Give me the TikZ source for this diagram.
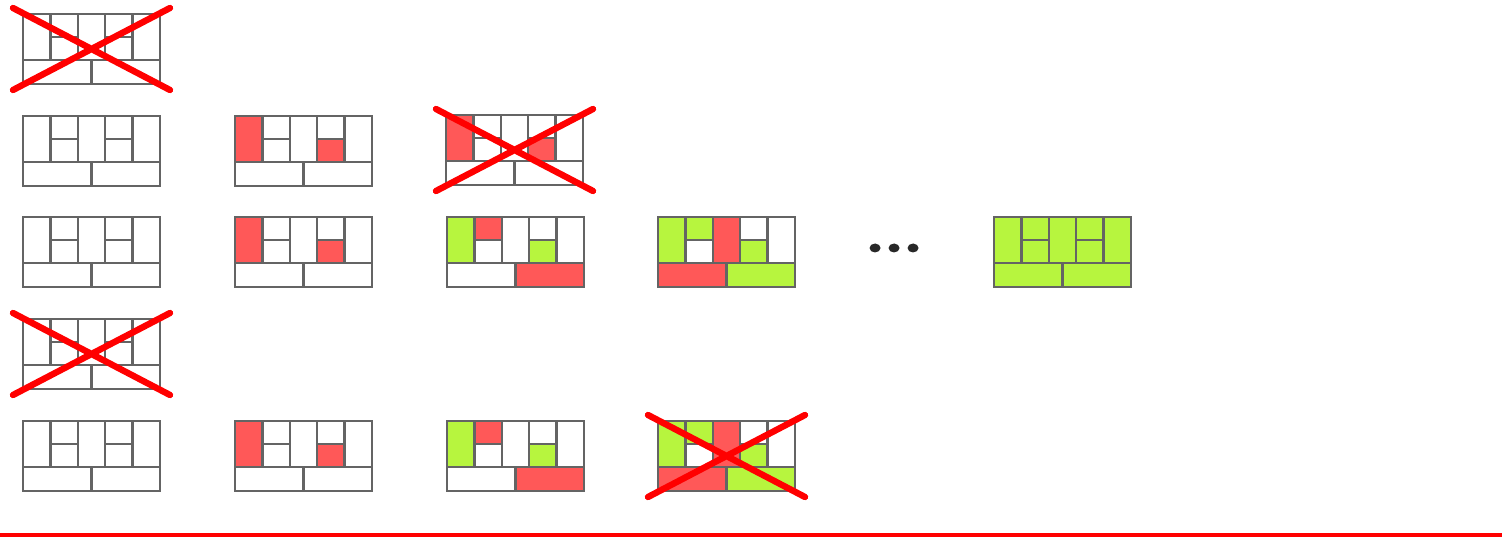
\documentclass[tikz,border=0pt]{standalone}
\definecolor{cellred}{RGB}{255,88,88}
\definecolor{cellgreen}{RGB}{183,245,62}
\definecolor{gridgray}{RGB}{100,100,100}
\definecolor{crossred}{RGB}{255,0,0}
\definecolor{dotgray}{RGB}{40,40,40}
% colours: c1, c2 top, c2 bottom, c3, c4 top, c4 bottom, c5, bottom left, bottom right
\newcommand\brickwall[9]{%
  \fill[#1] (0,0) rectangle (27.4,46);
  \fill[#2] (27.4,0) rectangle (54.8,23);
  \fill[#3] (27.4,23) rectangle (54.8,46);
  \fill[#4] (54.8,0) rectangle (82.2,46);
  \fill[#5] (82.2,0) rectangle (109.6,23);
  \fill[#6] (82.2,23) rectangle (109.6,46);
  \fill[#7] (109.6,0) rectangle (137,46);
  \fill[#8] (0,46) rectangle (68.5,70);
  \fill[#9] (68.5,46) rectangle (137,70);
  \draw[gridline] (0,0) rectangle (137,70)
    (0,46) -- (137,46)
    (27.4,0) -- (27.4,46) (54.8,0) -- (54.8,46)
    (82.2,0) -- (82.2,46) (109.6,0) -- (109.6,46)
    (27.4,23) -- (54.8,23) (82.2,23) -- (109.6,23)
    (68.5,46) -- (68.5,70);
}
\newcommand\crossout{%
  \draw[crossline] (-10,-6) -- (147,76) (147,-6) -- (-10,76);
}
\tikzset{
  gridline/.style={draw=gridgray, line width=1.2pt},
  crossline/.style={draw=crossred, line width=3.2pt, line cap=round},
  dotmark/.style={fill=dotgray},
  redrule/.style={draw=crossred, line width=1.6pt}
}
\begin{document}
\begin{tikzpicture}[x=0.5pt,y=-0.5pt]
\useasboundingbox (0,0) rectangle (1502,549);
% row 1
\begin{scope}[shift={(23,14)}]
  \brickwall{white}{white}{white}{white}{white}{white}{white}{white}{white}\crossout
\end{scope}
% row 2
\begin{scope}[shift={(23,116)}]
  \brickwall{white}{white}{white}{white}{white}{white}{white}{white}{white}
\end{scope}
\begin{scope}[shift={(235,116)}]
  \brickwall{cellred}{white}{white}{white}{white}{cellred}{white}{white}{white}
\end{scope}
\begin{scope}[shift={(446,115)}]
  \brickwall{cellred}{white}{white}{white}{white}{cellred}{white}{white}{white}\crossout
\end{scope}
% row 3
\begin{scope}[shift={(23,217)}]
  \brickwall{white}{white}{white}{white}{white}{white}{white}{white}{white}
\end{scope}
\begin{scope}[shift={(235,217)}]
  \brickwall{cellred}{white}{white}{white}{white}{cellred}{white}{white}{white}
\end{scope}
\begin{scope}[shift={(447,217)}]
  \brickwall{cellgreen}{cellred}{white}{white}{white}{cellgreen}{white}{white}{cellred}
\end{scope}
\begin{scope}[shift={(658,217)}]
  \brickwall{cellgreen}{cellgreen}{white}{cellred}{white}{cellgreen}{white}{cellred}{cellgreen}
\end{scope}
\begin{scope}[shift={(994,217)}]
  \brickwall{cellgreen}{cellgreen}{cellgreen}{cellgreen}{cellgreen}{cellgreen}{cellgreen}{cellgreen}{cellgreen}
\end{scope}
\fill[dotmark] (875,248) ellipse (5.5 and 4.5) (894,248) ellipse (5.5 and 4.5) (913,248) ellipse (5.5 and 4.5);
% row 4
\begin{scope}[shift={(23,319)}]
  \brickwall{white}{white}{white}{white}{white}{white}{white}{white}{white}\crossout
\end{scope}
% row 5
\begin{scope}[shift={(23,421)}]
  \brickwall{white}{white}{white}{white}{white}{white}{white}{white}{white}
\end{scope}
\begin{scope}[shift={(235,421)}]
  \brickwall{cellred}{white}{white}{white}{white}{cellred}{white}{white}{white}
\end{scope}
\begin{scope}[shift={(447,421)}]
  \brickwall{cellgreen}{cellred}{white}{white}{white}{cellgreen}{white}{white}{cellred}
\end{scope}
\begin{scope}[shift={(658,421)}]
  \brickwall{cellgreen}{cellgreen}{white}{cellred}{white}{cellgreen}{white}{cellred}{cellgreen}\crossout
\end{scope}
% bottom rule
\draw[redrule] (0,535) -- (1502,535);
\end{tikzpicture}
\end{document}
